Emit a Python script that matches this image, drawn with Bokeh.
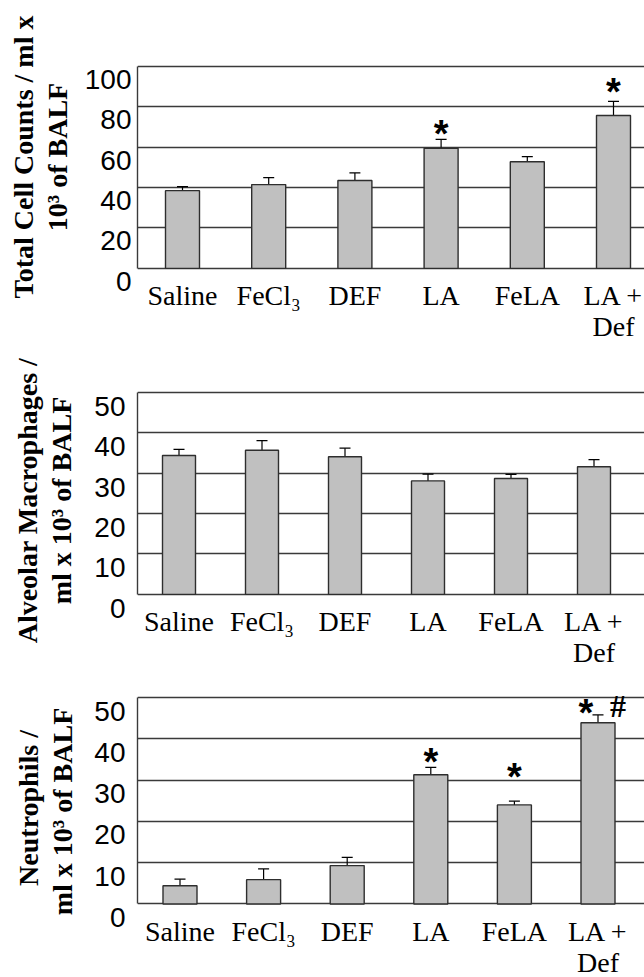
import numpy as np
from bokeh.plotting import figure
from bokeh.layouts import column
from bokeh.models import (ColumnDataSource, Range1d, LinearAxis, FixedTicker, Grid,
                          Whisker, TeeHead)
from bokeh.core.properties import value
from bokeh.embed import file_html
from bokeh.resources import INLINE

# ---------------- data ----------------
categories = ["Saline", "FeCl\u2083", "DEF", "LA", "FeLA", "LA +\nDef"]

total_cells = [38.5, 41.5, 43.5, 59.5, 52.8, 75.7]
total_cells_err = [2.0, 3.5, 3.8, 4.4, 2.6, 7.0]
total_marks = ["", "", "", "*", "", "*"]
total_hash = ["", "", "", "", "", ""]
total_ticks = [0, 20, 40, 60, 80, 100]

macrophages = [34.4, 35.7, 34.1, 28.1, 28.7, 31.6]
macrophages_err = [1.5, 2.4, 2.1, 1.7, 1.0, 1.8]
macro_marks = ["", "", "", "", "", ""]
macro_hash = ["", "", "", "", "", ""]
cell_ticks = [0, 10, 20, 30, 40, 50]

neutrophils = [4.4, 5.9, 9.3, 31.3, 24.0, 43.9]
neutrophils_err = [1.6, 2.6, 2.0, 1.8, 0.9, 1.9]
neut_marks = ["", "", "", "*", "*", "*"]
neut_hash = ["", "", "", "", "", "#"]

ylabels = [
    ("Total Cell Counts / ml x", "10\u00b3 of BALF"),
    ("Alveolar Macrophages /", "ml x 10\u00b3 of BALF"),
    ("Neutrophils /", "ml x 10\u00b3  of BALF"),
]

# ---------------- style / layout ----------------
W = 644
LINE = "#3a3a3a"
SERIF = "Liberation Serif"
SANS = "Liberation Sans"
NB = "\u00a0"

geoms = [
    dict(bt=64, frame_h=220, bb=72, left=131, c0=176.0, sp=86.2, bw_px=34,
         y_lo=-8, y_hi=101, lab_off_px=13, standoff=6, title_standoff=9,
         pad=((5, 0), (5, 0)), mark_dy=[0, 0, 0, 0, 0, -4], mark_base=0),
    dict(bt=34, frame_h=220, bb=72, left=137, c0=178.5, sp=83.0, bw_px=33,
         y_lo=-4, y_hi=50.5, lab_off_px=14, standoff=12, title_standoff=14,
         pad=((0, 0), (0, 0)), mark_dy=[0, 0, 0, 0, 0, 0], mark_base=0),
    dict(bt=13, frame_h=225, bb=57, left=137, c0=179.5, sp=83.6, bw_px=34,
         y_lo=-4, y_hi=50.5, lab_off_px=13.5, standoff=12, title_standoff=13,
         pad=((0, 0), (0, 0)), mark_dy=[0, 0, 0, 0, -19, 3], mark_base=0),
]


def make_panel(vals, errs, marks, hashes, ticks, ylab, g):
    left, sp, c0 = g["left"], g["sp"], g["c0"]
    x_lo = (left - c0) / sp
    x_hi = (W - c0) / sp
    y_lo, y_hi = g["y_lo"], g["y_hi"]
    ppu = g["frame_h"] / (y_hi - y_lo)
    off = g["lab_off_px"] / ppu

    p = figure(frame_width=W - left, frame_height=g["frame_h"],
               min_border_left=left, min_border_right=0,
               min_border_top=g["bt"], min_border_bottom=g["bb"],
               x_range=Range1d(x_lo, x_hi), y_range=Range1d(y_lo, y_hi),
               x_axis_location=None, y_axis_location=None,
               toolbar_location=None, output_backend="svg",
               outline_line_color=None, background_fill_color="white",
               border_fill_color="white")
    for gr in p.grid:
        gr.visible = False

    title_lines = []
    for txt, (pre, post) in zip(ylab, g["pad"]):
        title_lines.append(NB * pre + txt + NB * post)

    # y tick labels (drawn slightly below their grid lines, as in the original)
    p.extra_y_ranges = {"lab": Range1d(y_lo + off, y_hi + off)}
    yax = LinearAxis(y_range_name="lab", ticker=FixedTicker(ticks=ticks),
                     bounds=(ticks[0] + off, ticks[-1] + off),
                     axis_line_color=LINE, axis_line_width=1.4,
                     major_tick_out=0, major_tick_in=0,
                     minor_tick_line_color=None,
                     major_label_standoff=g["standoff"],
                     major_label_text_font=SANS,
                     major_label_text_font_size="28px",
                     major_label_text_color="black",
                     axis_label="\n".join(title_lines),
                     axis_label_standoff=g["title_standoff"],
                     axis_label_text_font=SERIF,
                     axis_label_text_font_style="bold",
                     axis_label_text_font_size="28px",
                     axis_label_text_color="black",
                     axis_label_text_line_height=1.1)
    p.add_layout(yax, "left")

    xs = list(range(len(categories)))
    xax = LinearAxis(ticker=FixedTicker(ticks=xs),
                     major_label_overrides={i: c for i, c in enumerate(categories)},
                     axis_line_color=None, major_tick_line_color=None,
                     major_tick_out=0, major_tick_in=0,
                     minor_tick_line_color=None, major_label_standoff=-5,
                     major_label_text_font=SERIF,
                     major_label_text_font_size="28px",
                     major_label_text_color="black",
                     major_label_text_line_height=1.0)
    p.add_layout(xax, "below")

    grid = Grid(dimension=1, ticker=FixedTicker(ticks=ticks),
                grid_line_color=LINE, grid_line_width=1.4)
    p.add_layout(grid)

    vals = np.array(vals, dtype=float)
    errs = np.array(errs, dtype=float)
    src = ColumnDataSource(dict(
        x=xs, val=vals, hi=vals + errs, lo=vals - errs,
        mark=marks, hash=hashes,
        mx=[-12 if h else 0 for h in hashes],
        my=[-5 + d for d in g["mark_dy"]],
    ))
    p.vbar(x="x", top="val", bottom=0, width=g["bw_px"] / sp, source=src,
           fill_color="#c0c0c0", line_color="#2e2e2e", line_width=1.4)

    wh = Whisker(source=src, base="x", upper="hi", lower="lo",
                 line_color="black", line_width=1.2,
                 upper_head=TeeHead(size=11, line_color="black", line_width=1.2),
                 lower_head=TeeHead(size=11, line_color="black", line_width=1.2))
    p.add_layout(wh)

    p.text(x="x", y="hi", text="mark", source=src, x_offset="mx", y_offset="my",
           text_font=value(SANS), text_font_style="bold", text_font_size="38px",
           text_align="center", text_baseline="alphabetic", text_color="black")
    p.text(x="x", y="hi", text="hash", source=src, x_offset=20, y_offset=-9,
           text_font=value(SERIF), text_font_style="bold", text_font_size="32px",
           text_align="center", text_baseline="alphabetic", text_color="black")
    return p


p1 = make_panel(total_cells, total_cells_err, total_marks, total_hash,
                total_ticks, ylabels[0], geoms[0])
p2 = make_panel(macrophages, macrophages_err, macro_marks, macro_hash,
                cell_ticks, ylabels[1], geoms[1])
p3 = make_panel(neutrophils, neutrophils_err, neut_marks, neut_hash,
                cell_ticks, ylabels[2], geoms[2])

layout = column(p1, p2, p3, spacing=0)
open("out.html", "w").write(file_html(layout, INLINE))
